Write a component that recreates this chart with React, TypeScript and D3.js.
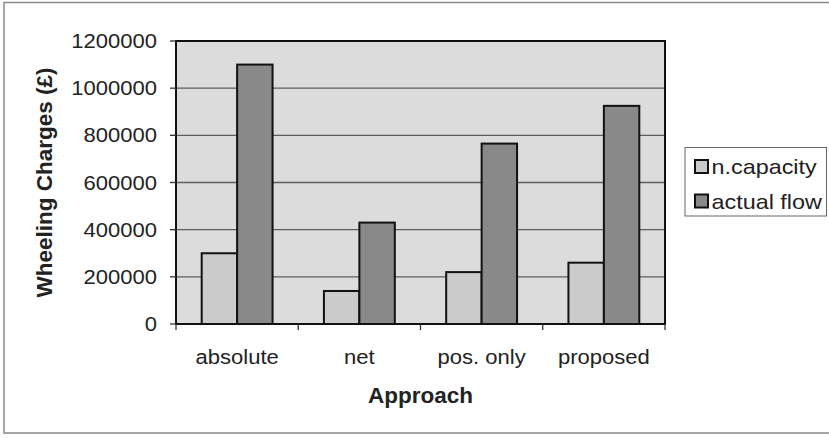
import React from "react";
import * as d3 from "d3";

// Wheeling charges by pricing approach
const categories = ["absolute", "net", "pos. only", "proposed"];
const seriesNames = ["n.capacity", "actual flow"];
const capacityValues = [300000, 140000, 220000, 260000];
const actualFlowValues = [1100000, 430000, 765000, 925000];
const yTicks = [0, 200000, 400000, 600000, 800000, 1000000, 1200000];

const W = 829;
const H = 438;
const plot = { left: 176, top: 41, right: 665, bottom: 324 };
const seriesFill = ["#cbcbcb", "#898989"];
const FONT = "Arial, 'Liberation Sans', Helvetica, sans-serif";

// Regular text is drawn slightly widened to follow the original typeface
function WideText({ x, y, anchor = "start", size, sx = 1.13, weight = "normal", children }: any) {
  return (
    <g transform={`translate(${x},${y}) scale(${sx},1)`}>
      <text
        x={0}
        y={0}
        textAnchor={anchor}
        fontFamily={FONT}
        fontSize={size}
        fontWeight={weight}
        fill="#222"
      >
        {children}
      </text>
    </g>
  );
}

export default function App() {
  const x = d3.scaleBand<string>().domain(categories).range([plot.left, plot.right]).paddingInner(0).paddingOuter(0);
  const inner = d3
    .scaleBand<string>()
    .domain(seriesNames)
    .range([0, x.bandwidth()])
    .paddingOuter(0.725)
    .paddingInner(0);
  const y = d3.scaleLinear().domain([0, 1200000]).range([plot.bottom, plot.top]);
  const series = [capacityValues, actualFlowValues];
  const fmt = d3.format("d");

  const tickXs = categories.map((c) => x(c)!).concat([plot.right]);

  return (
    <svg
      width={W}
      height={H}
      style={{ position: "absolute", left: 0, top: 0, background: "#fff" }}
    >
      {/* chart frame */}
      <rect x={4} y={2.5} width={W + 10} height={430.5} fill="#fff" stroke="#8a8a8a" strokeWidth={1.5} />

      {/* plot background */}
      <rect
        x={plot.left}
        y={plot.top}
        width={plot.right - plot.left}
        height={plot.bottom - plot.top}
        fill="#dcdcdc"
      />

      {/* gridlines */}
      {yTicks.slice(1, -1).map((t) => (
        <line key={t} x1={plot.left} x2={plot.right} y1={y(t)} y2={y(t)} stroke="#5e5e5e" strokeWidth={1.3} />
      ))}

      {/* bars */}
      {categories.map((c, i) => (
        <g key={c}>
          {series.map((vals, s) => (
            <rect
              key={s}
              x={x(c)! + inner(seriesNames[s])!}
              y={y(vals[i])}
              width={inner.bandwidth()}
              height={plot.bottom - y(vals[i])}
              fill={seriesFill[s]}
              stroke="#111"
              strokeWidth={2}
            />
          ))}
        </g>
      ))}

      {/* plot border */}
      <rect
        x={plot.left}
        y={plot.top}
        width={plot.right - plot.left}
        height={plot.bottom - plot.top}
        fill="none"
        stroke="#111"
        strokeWidth={2}
      />

      {/* y axis ticks and labels */}
      {yTicks.map((t) => (
        <g key={t}>
          <line x1={plot.left - 6} x2={plot.left} y1={y(t)} y2={y(t)} stroke="#333" strokeWidth={1.3} />
          <WideText x={157} y={y(t) + 7} anchor="end" size={19.5}>
            {fmt(t)}
          </WideText>
        </g>
      ))}

      {/* x axis ticks and labels */}
      {tickXs.map((tx, i) => (
        <line key={i} x1={tx} x2={tx} y1={plot.bottom} y2={plot.bottom + 6} stroke="#333" strokeWidth={1.3} />
      ))}
      {categories.map((c) => (
        <WideText key={c} x={x(c)! + x.bandwidth() / 2} y={364} anchor="middle" size={19.5}>
          {c}
        </WideText>
      ))}

      {/* axis titles */}
      <text
        x={(plot.left + plot.right) / 2}
        y={402.5}
        textAnchor="middle"
        fontFamily={FONT}
        fontSize={22.5}
        fontWeight="bold"
        fill="#222"
      >
        Approach
      </text>
      <text
        transform={`translate(52,${(plot.top + plot.bottom) / 2}) rotate(-90)`}
        textAnchor="middle"
        fontFamily={FONT}
        fontSize={22.5}
        fontWeight="bold"
        fill="#222"
      >
        Wheeling Charges (£)
      </text>

      {/* legend */}
      <rect x={685} y={147.5} width={141.5} height={68.5} fill="#fff" stroke="#666" strokeWidth={1} />
      {seriesNames.map((name, s) => (
        <g key={name}>
          <rect
            x={695}
            y={160 + s * 34.5}
            width={13}
            height={13}
            fill={seriesFill[s]}
            stroke="#111"
            strokeWidth={2}
          />
          <WideText x={711.5} y={174 + s * 34.5} size={20.5} sx={1.14}>
            {name}
          </WideText>
        </g>
      ))}
    </svg>
  );
}
